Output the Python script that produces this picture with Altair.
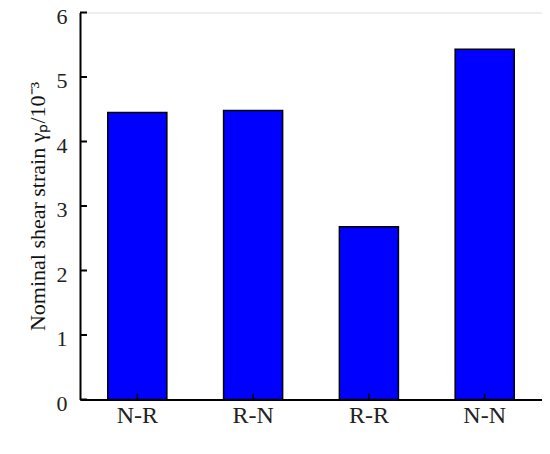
import altair as alt
import pandas as pd

categories = ["N-R", "R-N", "R-R", "N-N"]
values = [4.45, 4.48, 2.68, 5.43]
y_ticks = [0, 1, 2, 3, 4, 5, 6]

W, H = 462, 387
df = pd.DataFrame({"cat": categories, "val": values})
ticks_df = pd.DataFrame({"t": y_ticks})

xscale = alt.Scale(paddingInner=0.49, paddingOuter=0.24)
yscale = alt.Scale(domain=[0, 6], nice=False)
FONT = "Liberation Serif"

xaxis = alt.Axis(title=None, labelAngle=0, ticks=False, domainColor="black",
                 domainWidth=2, labelFont=FONT, labelFontSize=24,
                 labelColor="#222", labelPadding=4, grid=False)
yaxis = alt.Axis(title="Nominal shear strain  γₚ/10⁻³", values=y_ticks, ticks=False,
                 domainColor="black", domainWidth=2, labelFont=FONT,
                 labelFontSize=22, labelColor="#222", labelPadding=13, labelOffset=3.5,
                 titleFont=FONT, titleFontSize=22, titleFontWeight="normal",
                 titleColor="#111", titlePadding=7, grid=False)

bars = alt.Chart(df).mark_bar(color="#0000FF", stroke="black", strokeWidth=1.5).encode(
    x=alt.X("cat:N", sort=categories, scale=xscale, axis=xaxis),
    y=alt.Y("val:Q", scale=yscale, axis=yaxis),
)

ytick_marks = alt.Chart(ticks_df).mark_rule(color="black", strokeWidth=2).encode(
    y=alt.Y("t:Q", scale=yscale, axis=yaxis),
    x=alt.value(0), x2=alt.value(7),
)

xtick_marks = alt.Chart(df).mark_rule(color="black", strokeWidth=1.5).encode(
    x=alt.X("cat:N", sort=categories, scale=xscale, axis=xaxis),
    y=alt.value(H), y2=alt.value(H - 6),
)

chart = alt.layer(bars, xtick_marks, ytick_marks).properties(
    width=W, height=H,
    autosize=alt.AutoSizeParams(type="none"),
    padding={"left": 72, "top": 4.5, "right": 0, "bottom": 46.5},
).configure_view(stroke="transparent").configure(background="white")

chart.save("out.html", embed_options={"renderer": "svg", "actions": False})
